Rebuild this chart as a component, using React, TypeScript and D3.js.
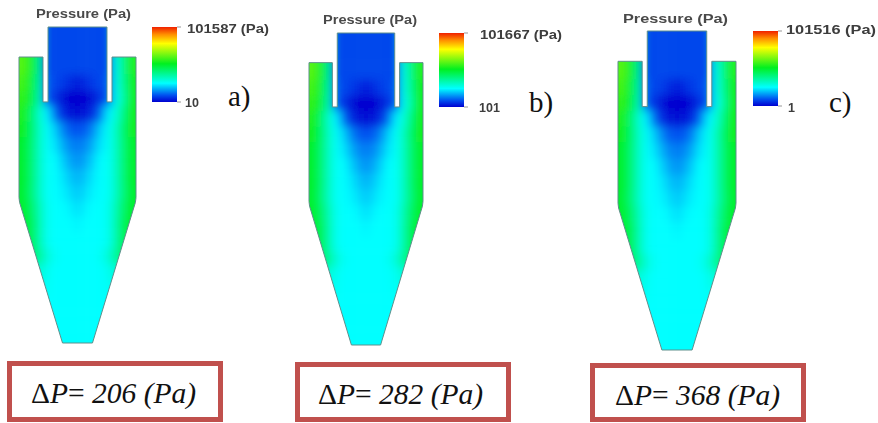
import * as d3 from "d3"

// readings from the picture
const maxLabels = ["101587 (Pa)", "101667 (Pa)", "101516 (Pa)"]
const minLabels = ["10", "101", "1"]
const panelLetters = ["a)", "b)", "c)"]
const deltaP = ["206", "282", "368"]

// colour bar stops: normalised pressure -> colour
const barValues = [0, 0.09, 0.25, 0.51, 0.78, 0.9, 1]
const barColors = ["#0000d0", "#0050f0", "#00ffff", "#00f020", "#ffff00", "#ff9000", "#f02000"]

// normalised pressure, rows top to bottom, columns left to right
const fieldRows = [
  [.6, .52, .4, .08, .08, .08, .08, .08, .08, .08, .08, .08, .3, .42, .54],
  [.6, .52, .4, .08, .08, .08, .08, .08, .08, .08, .08, .08, .3, .42, .54],
  [.6, .52, .4, .08, .08, .08, .08, .08, .08, .08, .08, .08, .28, .42, .54],
  [.58, .5, .38, .1, .08, .07, .05, .03, .05, .07, .08, .1, .28, .4, .52],
  [.56, .5, .36, .1, .06, .02, 0, 0, 0, .02, .06, .1, .27, .38, .52],
  [.54, .44, .32, .24, .12, .05, .02, .01, .02, .05, .12, .24, .3, .42, .52],
  [.52, .44, .33, .26, .21, .14, .1, .09, .1, .14, .21, .26, .33, .44, .52],
  [.5, .43, .33, .26, .23, .18, .14, .13, .14, .18, .23, .26, .33, .43, .5],
  [.5, .43, .33, .26, .25, .21, .17, .15, .17, .21, .25, .26, .33, .43, .5],
  [.5, .43, .33, .26, .25, .23, .2, .18, .2, .23, .25, .26, .33, .43, .5],
  [.5, .42, .33, .26, .25, .24, .22, .2, .22, .24, .25, .26, .33, .42, .5],
  [.5, .44, .35, .27, .25, .25, .24, .22, .24, .25, .25, .27, .35, .44, .5],
  [.5, .46, .36, .27, .25, .25, .25, .24, .25, .25, .25, .27, .36, .46, .5],
  [.5, .46, .36, .27, .25, .25, .25, .25, .25, .25, .25, .27, .36, .46, .5],
  [.44, .44, .38, .3, .26, .25, .25, .25, .25, .25, .26, .3, .38, .44, .44],
  [.3, .3, .3, .27, .25, .25, .25, .25, .25, .25, .25, .27, .3, .3, .3],
  [.27, .27, .27, .26, .25, .25, .25, .25, .25, .25, .25, .26, .27, .27, .27],
  [.25, .25, .25, .25, .25, .25, .25, .25, .25, .25, .25, .25, .25, .25, .25],
  [.25, .25, .25, .25, .25, .25, .25, .25, .25, .25, .25, .25, .25, .25, .25],
  [.25, .25, .25, .25, .25, .25, .25, .25, .25, .25, .25, .25, .25, .25, .25],
]

// cyclone outline in its own units: x -1..1 across the body, y 0..1 top to bottom
const outline: [number, number][] = [
  [-0.504, 0], [0.504, 0], [0.504, 0.237], [0.59, 0.237], [0.59, 0.095], [1, 0.095],
  [1, 0.54], [0.99, 0.555], [0.256, 1], [-0.256, 1], [-0.99, 0.555], [-1, 0.54],
  [-1, 0.095], [-0.59, 0.095], [-0.59, 0.237], [-0.504, 0.237],
]

const layouts = [
  { left: 19, right: 136, top: 27, bottom: 343, titleX: 36, titleY: 18, titleW: 95, barX: 152, barTop: 27, barBottom: 102, labelX: 187, labelY: 33, labelW: 82, minX: 185, minY: 107, letterX: 228, letterY: 106, boxX: 7, boxY: 361, boxW: 216, boxH: 61, textX: 31, textY: 403 },
  { left: 309, right: 423, top: 33, bottom: 345, titleX: 323, titleY: 24, titleW: 94, barX: 439, barTop: 33, barBottom: 107, labelX: 480, labelY: 39, labelW: 82, minX: 479, minY: 112, letterX: 529, letterY: 112, boxX: 295, boxY: 362, boxW: 216, boxH: 60, textX: 318, textY: 404 },
  { left: 618, right: 736, top: 31, bottom: 350, titleX: 623, titleY: 23, titleW: 105, barX: 753, barTop: 31, barBottom: 106, labelX: 786, labelY: 34, labelW: 90, minX: 788, minY: 112, letterX: 829, letterY: 112, boxX: 590, boxY: 363, boxW: 216, boxH: 59, textX: 615, textY: 405 },
]

const color = d3.scaleLinear<string>().domain(barValues).range(barColors).clamp(true)
const columns = d3.range(fieldRows[0].length)
const rows = d3.range(fieldRows.length)
const bleed = 24

const Panel = ({ index }: { index: number }) => {
  const p = layouts[index]
  const x = d3.scaleLinear().domain([-1, 1]).range([p.left, p.right])
  const y = d3.scaleLinear().domain([0, 1]).range([p.top, p.bottom])
  const colBand = d3.scaleBand<number>().domain(columns).range([p.left, p.right])
  const rowBand = d3.scaleBand<number>().domain(rows).range([p.top, p.bottom])
  const shape = d3.line<[number, number]>().x(d => x(d[0])).y(d => y(d[1])).curve(d3.curveLinearClosed)(outline) as string

  return (
    <g>
      <defs>
        <clipPath id={`shape-${index}`}><path d={shape} /></clipPath>
        <filter id={`smooth-${index}`} filterUnits="userSpaceOnUse" x={p.left - 40} y={p.top - 40} width={p.right - p.left + 80} height={p.bottom - p.top + 80}>
          <feGaussianBlur stdDeviation="5" />
        </filter>
      </defs>

      <g clipPath={`url(#shape-${index})`}>
        <g filter={`url(#smooth-${index})`}>
          {rows.map(r => columns.map(c => {
            // outer cells run on past the outline so the blur does not fade at the edges
            const padL = c === 0 ? bleed : 0
            const padR = c === columns.length - 1 ? bleed : 0
            const padT = r === 0 ? bleed : 0
            const padB = r === rows.length - 1 ? bleed : 0
            return (
              <rect
                key={`${r}-${c}`}
                x={(colBand(c) as number) - padL}
                y={(rowBand(r) as number) - padT}
                width={colBand.bandwidth() + 0.5 + padL + padR}
                height={rowBand.bandwidth() + 0.5 + padT + padB}
                fill={color(fieldRows[r][c])}
              />
            )
          }))}
        </g>
      </g>
      <path d={shape} fill="none" stroke="#5f8f8c" strokeWidth="1" filter="url(#soft)" />

      <text x={p.titleX} y={p.titleY} textLength={p.titleW} lengthAdjust="spacingAndGlyphs" fontFamily="Liberation Sans" fontWeight="bold" fontSize="12.5" fill="#4a4a4a" filter="url(#soft)">Pressure (Pa)</text>

      <rect x={p.barX} y={p.barTop} width="25" height={p.barBottom - p.barTop} fill="url(#bar)" />
      <line x1={p.barX + 25} x2={p.barX + 29} y1={p.barTop} y2={p.barTop} stroke="#999" />
      <line x1={p.barX + 25} x2={p.barX + 29} y1={p.barBottom} y2={p.barBottom} stroke="#999" />
      <text x={p.labelX} y={p.labelY} textLength={p.labelW} lengthAdjust="spacingAndGlyphs" fontFamily="Liberation Sans" fontWeight="bold" fontSize="12.5" fill="#3c3c3c" filter="url(#soft)">{maxLabels[index]}</text>
      <text x={p.minX} y={p.minY} fontFamily="Liberation Sans" fontWeight="bold" fontSize="12.5" fill="#3c3c3c" filter="url(#soft)">{minLabels[index]}</text>

      <text x={p.letterX} y={p.letterY} fontFamily="Liberation Serif" fontSize="29" fill="#111">{panelLetters[index]}</text>

      <rect x={p.boxX + 2.5} y={p.boxY + 2.5} width={p.boxW - 5} height={p.boxH - 5} fill="#fff" stroke="#c0504d" strokeWidth="5" />
      <text x={p.textX} y={p.textY} fontFamily="Liberation Serif" fontSize="29.5" fill="#111">
        <tspan>Δ</tspan>
        <tspan fontStyle="italic">P</tspan>
        <tspan>= </tspan>
        <tspan fontStyle="italic">{deltaP[index]} (Pa)</tspan>
      </text>
    </g>
  )
}

export default function App() {
  const barScale = d3.scaleLinear().domain([1, 0]).range([0, 100])
  return (
    <svg width={878} height={423} style={{ position: "fixed", left: 0, top: 0, background: "#fff" }}>
      <defs>
        <filter id="soft"><feGaussianBlur stdDeviation="0.4" /></filter>
        <linearGradient id="bar" x1="0" x2="0" y1="0" y2="1">
          {barValues.map((v, i) => ({ v, c: barColors[i] })).reverse().map(s => (
            <stop key={s.v} offset={`${barScale(s.v)}%`} stopColor={s.c} />
          ))}
        </linearGradient>
      </defs>
      {layouts.map((_, i) => <Panel key={i} index={i} />)}
    </svg>
  )
}
